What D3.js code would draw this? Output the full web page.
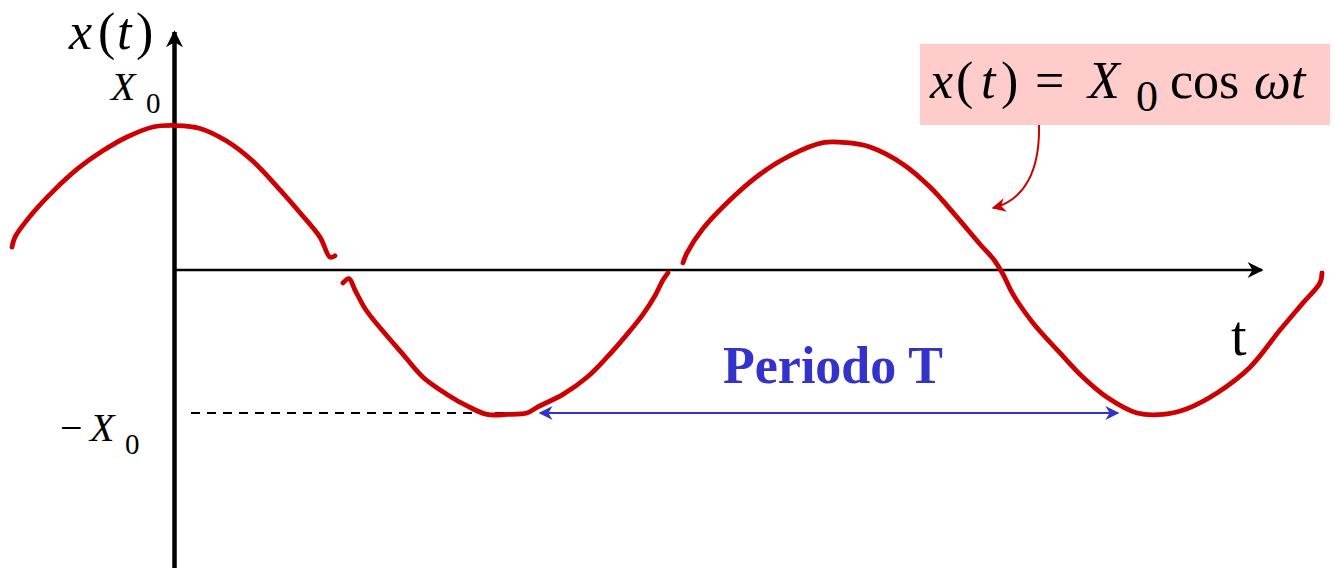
<!DOCTYPE html>
<html>
<head>
<meta charset="utf-8">
<script src="https://cdn.jsdelivr.net/npm/d3@7"></script>
<style>
  html, body { margin: 0; padding: 0; background: #fff; }
  svg { display: block; }
  text { font-family: "Liberation Serif", "Times New Roman", serif; }
</style>
</head>
<body>
<svg id="chart" width="1335" height="568"></svg>
<script>
// ---- data (t in arbitrary units, x in units of X0), hand-drawn strokes ----
const stroke1 = [
  [-1.64, 0.16], [-1.61, 0.23], [-1.43, 0.40], [-1.23, 0.55], [-0.98, 0.71],
  [-0.74, 0.83], [-0.49, 0.93], [-0.23, 1.00], [0.01, 1.01], [0.24, 0.99],
  [0.51, 0.90], [0.77, 0.76], [1.04, 0.56], [1.24, 0.40], [1.44, 0.23],
  [1.54, 0.09], [1.59, 0.10]
];
const stroke2 = [
  [1.67, -0.09], [1.73, -0.06], [1.79, -0.14], [1.90, -0.28], [2.06, -0.42],
  [2.27, -0.59], [2.47, -0.75], [2.71, -0.87], [2.91, -0.95], [3.11, -1.01],
  [3.31, -1.01], [3.51, -1.00], [3.61, -0.96], [3.87, -0.87], [4.11, -0.75],
  [4.31, -0.61], [4.51, -0.45], [4.67, -0.31], [4.79, -0.18], [4.87, -0.07],
  [4.92, -0.02]
];
const stroke3 = [
  [5.07, 0.05], [5.11, 0.12], [5.27, 0.29], [5.54, 0.49], [5.84, 0.67],
  [6.14, 0.80], [6.47, 0.89], [6.71, 0.89], [6.94, 0.86], [7.27, 0.74],
  [7.54, 0.58], [7.81, 0.37], [8.04, 0.18], [8.17, 0.08], [8.27, -0.03],
  [8.37, -0.17], [8.57, -0.37], [8.84, -0.58], [9.07, -0.75], [9.31, -0.89],
  [9.61, -1.00], [9.87, -1.01], [10.11, -0.97], [10.41, -0.86], [10.74, -0.68],
  [11.04, -0.42], [11.27, -0.23], [11.44, -0.09], [11.46, -0.02]
];
const strokes = [stroke1, stroke2, stroke3];
const amplitudeLevels = [1, -1];           // X0 and -X0
const dashedRange = [0.15, 3.45];          // dashed guide at -X0
const periodArrow = [3.64, 9.42];          // "Periodo T" arrow span
const axisTRange = [0, 10.86];             // horizontal axis extent
const periodLabel = "Periodo T";

// ---- scales ----
const svg = d3.select("#chart");
const x = d3.scaleLinear().domain([0, 10]).range([176, 1176]);
const y = d3.scaleLinear().domain([-1, 1]).range([413, 127]);

const RED = "#cc0000", BLUE = "#3333cc";
const SERIF = "'Liberation Serif', 'Times New Roman', serif";

// ---- defs: arrowheads ----
const defs = svg.append("defs");
function marker(id, color, w, h) {
  defs.append("marker").attr("id", id)
    .attr("viewBox", "0 0 20 20").attr("refX", 18).attr("refY", 10)
    .attr("markerWidth", w).attr("markerHeight", h)
    .attr("markerUnits", "userSpaceOnUse").attr("orient", "auto-start-reverse")
    .append("path").attr("d", "M0,0 L20,10 L0,20 L6,10 Z").attr("fill", color);
}
marker("arrBlack", "#000", 18, 16);
marker("arrBlackV", "#000", 19, 17);
marker("arrBlue", BLUE, 20, 14);
marker("arrRed", RED, 16, 14);

// ---- axes ----
svg.append("line")
  .attr("x1", x(axisTRange[0])).attr("x2", x(axisTRange[1]))
  .attr("y1", y(0)).attr("y2", y(0))
  .attr("stroke", "#000").attr("stroke-width", 2.5)
  .attr("marker-end", "url(#arrBlack)");

svg.append("line")
  .attr("x1", x(0) - 1.5).attr("x2", x(0) - 1.5)
  .attr("y1", 568).attr("y2", 32)
  .attr("stroke", "#000").attr("stroke-width", 4.5)
  .attr("marker-end", "url(#arrBlackV)");

// dashed guide at -X0
svg.append("line")
  .attr("x1", x(dashedRange[0])).attr("x2", x(dashedRange[1]))
  .attr("y1", y(-1)).attr("y2", y(-1))
  .attr("stroke", "#000").attr("stroke-width", 2)
  .attr("stroke-dasharray", "9,7");

// ---- curve strokes ----
const line = d3.line().x(d => x(d[0])).y(d => y(d[1])).curve(d3.curveCatmullRom.alpha(0.5));
svg.append("g").selectAll("path").data(strokes).join("path")
  .attr("d", line)
  .attr("fill", "none").attr("stroke", RED).attr("stroke-width", 4.8)
  .attr("stroke-linecap", "round").attr("stroke-linejoin", "round");

// ---- period arrow ----
svg.append("line")
  .attr("x1", x(periodArrow[0])).attr("x2", x(periodArrow[1]))
  .attr("y1", y(-1)).attr("y2", y(-1))
  .attr("stroke", BLUE).attr("stroke-width", 2)
  .attr("marker-start", "url(#arrBlue)").attr("marker-end", "url(#arrBlue)");

svg.append("text").attr("x", 723).attr("y", 383)
  .attr("font-family", SERIF)
  .attr("font-size", 52).attr("font-weight", "bold").attr("fill", BLUE)
  .text(periodLabel);

// ---- axis labels ----
function mathLabel(parts, x0, base) {
  const g = svg.append("g");
  parts.forEach(p => {
    g.append("text").attr("x", x0 + p.dx).attr("y", base + (p.dy || 0))
      .attr("font-family", SERIF)
      .attr("font-size", p.size).attr("font-style", p.italic ? "italic" : "normal")
      .attr("fill", "#000").text(p.t);
  });
}
// x(t) on y axis
mathLabel([
  { t: "x", dx: 0, size: 52, italic: true },
  { t: "(", dx: 29, size: 52 },
  { t: "t", dx: 48, size: 52, italic: true },
  { t: ")", dx: 67, size: 52 }
], 69, 49);

// X0 and -X0
mathLabel([
  { t: "X", dx: 0, size: 40, italic: true },
  { t: "0", dx: 35, dy: 13, size: 29 }
], 111, y(amplitudeLevels[0]) - 27);
mathLabel([
  { t: "\u2212", dx: 0, size: 40 },
  { t: "X", dx: 30, size: 40, italic: true },
  { t: "0", dx: 65, dy: 13, size: 29 }
], 60, y(amplitudeLevels[1]) + 28);

// t label
svg.append("text").attr("x", 1231).attr("y", 355)
  .attr("font-family", SERIF)
  .attr("font-size", 56).attr("fill", "#000").text("t");

// ---- formula box ----
svg.append("rect").attr("x", 920).attr("y", 44).attr("width", 410).attr("height", 81)
  .attr("fill", "#ffcccc");
mathLabel([
  { t: "x", dx: 0, size: 52, italic: true },
  { t: "(", dx: 26, size: 52 },
  { t: "t", dx: 51, size: 52, italic: true },
  { t: ")", dx: 71, size: 52 },
  { t: "=", dx: 105, size: 52 },
  { t: "X", dx: 158, size: 52, italic: true },
  { t: "0", dx: 206, dy: 13, size: 44 },
  { t: "cos", dx: 240, size: 52 },
  { t: "\u03C9", dx: 324, size: 52, italic: true },
  { t: "t", dx: 361, size: 52, italic: true }
], 930, 98);

// callout arrow
svg.append("path")
  .attr("d", "M1039,125 C1040,170 1025,200 993,208")
  .attr("fill", "none").attr("stroke", RED).attr("stroke-width", 2)
  .attr("marker-end", "url(#arrRed)");
</script>
</body>
</html>
